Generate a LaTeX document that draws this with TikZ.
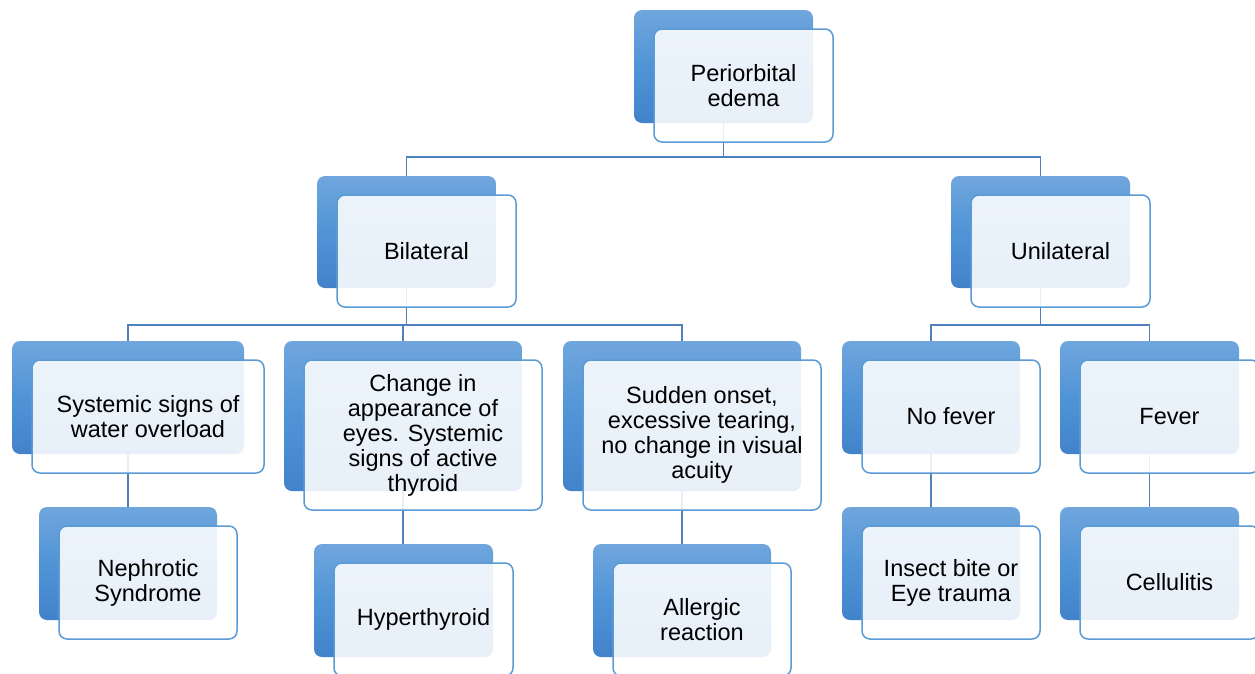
\documentclass[tikz,border=0pt]{standalone}
\usepackage{fontspec}
\setmainfont{Liberation Sans}
\usetikzlibrary{backgrounds}
\definecolor{bkA}{RGB}{112,166,221}
\definecolor{bkB}{RGB}{80,148,214}
\definecolor{bkC}{RGB}{66,130,202}
\definecolor{frame}{RGB}{91,155,213}
\definecolor{linec}{RGB}{79,129,189}
\tikzset{
  backbox/.style={rectangle, rounded corners=8pt, draw=none, top color=bkA, bottom color=bkC, middle color=bkB, anchor=north west, inner sep=0pt, outer sep=0pt},
  frontbox/.style={rectangle, rounded corners=8pt, draw=frame, line width=1.5pt, fill=white, fill opacity=0.88, text opacity=1, anchor=north west, align=center, font=\fontsize{23.5}{25}\selectfont, inner sep=0pt, outer sep=0pt},
  conn/.style={draw=linec, line width=1.5pt}
}
\newcommand\mkpair[6]{%
  \node[backbox, minimum width=#4pt, minimum height=#5pt] (b#1) at (#2,#3) {};
  \node[frontbox, minimum width=#4pt, minimum height=#5pt] (f#1) at (#2+20,#3+19) {#6};
}
\begin{document}
\begin{tikzpicture}[x=1pt,y=-1pt]
\useasboundingbox (0,0) rectangle (1255,673);
\mkpair{peri}{634}{10}{179}{113}{Periorbital\\edema}
\mkpair{bil}{317}{176}{179}{112}{Bilateral}
\mkpair{uni}{951}{176}{179}{112}{Unilateral}
\mkpair{sys}{12}{341}{232}{113}{Systemic signs of\\water overload}
\mkpair{chg}{284}{341}{238}{150}{Change in\\appearance of\\eyes. Systemic\\signs of active\\thyroid}
\mkpair{sud}{563}{341}{238}{150}{Sudden onset,\\excessive tearing,\\no change in visual\\acuity}
\mkpair{nof}{842}{341}{178}{113}{No fever}
\mkpair{fev}{1060}{341}{179}{113}{Fever}
\mkpair{nep}{39}{507}{178}{113}{Nephrotic\\Syndrome}
\mkpair{hyp}{314}{544}{179}{113}{Hyperthyroid}
\mkpair{all}{593}{544}{178}{113}{Allergic\\reaction}
\mkpair{ins}{842}{507}{178}{113}{Insect bite or\\Eye trauma}
\mkpair{cel}{1060}{507}{179}{113}{Cellulitis}
\coordinate (busA) at (0,157);
\coordinate (busB) at (0,325);
\begin{scope}[on background layer]
\draw[conn] (bperi.south) -- (bperi.south |- busA) -| (bbil.north);
\draw[conn] (bperi.south |- busA) -| (buni.north);
\draw[conn] (bbil.south) -- (bbil.south |- busB) -| (bsys.north);
\draw[conn] (bbil.south |- busB) -| (bchg.north);
\draw[conn] (bbil.south |- busB) -| (bsud.north);
\draw[conn] (buni.south) -- (buni.south |- busB) -| (bnof.north);
\draw[conn] (buni.south |- busB) -| (bfev.north);
\draw[conn] (bsys.south) -- (bsys.south |- bnep.north);
\draw[conn] (bchg.south) -- (bchg.south |- bhyp.north);
\draw[conn] (bsud.south) -- (bsud.south |- ball.north);
\draw[conn] (bnof.south) -- (bnof.south |- bins.north);
\draw[conn] (bfev.south) -- (bfev.south |- bcel.north);
\end{scope}
\end{tikzpicture}
\end{document}
